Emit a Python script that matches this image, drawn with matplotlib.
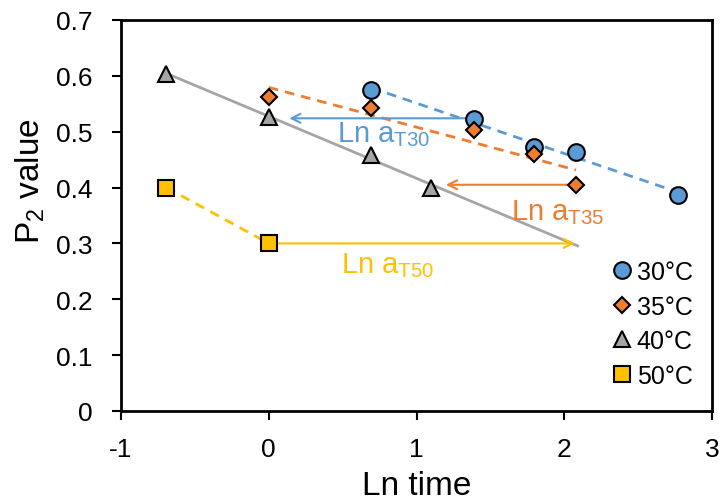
import numpy as np
import matplotlib
matplotlib.use("Agg")
import matplotlib.pyplot as plt

plt.rcParams['font.family'] = ['Liberation Sans', 'DejaVu Sans']
plt.rcParams['mathtext.fontset'] = 'custom'
plt.rcParams['mathtext.rm'] = 'Liberation Sans'
plt.rcParams['mathtext.it'] = 'Liberation Sans'
plt.rcParams['axes.unicode_minus'] = False

# Dados
x_30 = [0.693, 1.386, 1.792, 2.079, 2.773]
y_30 = [0.575, 0.522, 0.473, 0.463, 0.387]
x_35 = [0.0, 0.693, 1.386, 1.792, 2.079]
y_35 = [0.562, 0.543, 0.503, 0.460, 0.405]
x_40 = [-0.693, 0.0, 0.693, 1.099]
y_40 = [0.603, 0.527, 0.458, 0.400]
x_50 = [-0.693, 0.0]
y_50 = [0.400, 0.300]

# extensão da reta de 40°C (deslocada)
x_40_ext = 2.09

labels = ['30°C', '35°C', '40°C', '50°C']
x_ticks = [-1, 0, 1, 2, 3]
y_ticks = [0, 0.1, 0.2, 0.3, 0.4, 0.5, 0.6, 0.7]
y_ticklabels = ['0', '0.1', '0.2', '0.3', '0.4', '0.5', '0.6', '0.7']

azul = '#5B9BD5'
laranja = '#ED7D31'
cinza = '#A5A5A5'
amarelo = '#FFC000'

fig = plt.figure(figsize=(7.23, 5.02), dpi=100)
ax = fig.add_axes([0.1674, 0.1793, 0.8174, 0.7789])

# Linhas de tendência (ajuste linear)
p30 = np.polyfit(x_30, y_30, 1)
p35 = np.polyfit(x_35, y_35, 1)
p40 = np.polyfit(x_40, y_40, 1)

tracejado = dict(ls='--', lw=2.0, dashes=(3.5, 2.5), zorder=2)
xs = np.array([x_30[0], x_30[-1]])
ax.plot(xs, np.polyval(p30, xs), color=azul, **tracejado)
xs = np.array([x_35[0], x_35[-1]])
ax.plot(xs, np.polyval(p35, xs), color=laranja, **tracejado)
xs = np.array([x_40[0], x_40_ext])
ax.plot(xs, np.polyval(p40, xs), '-', color=cinza, lw=2.0, zorder=2)
ax.plot(x_50, y_50, color=amarelo, **tracejado)

# Setas de deslocamento
seta = dict(arrowstyle='->', lw=1.5, mutation_scale=16)
ax.annotate('', xy=(0.12, 0.524), xytext=(x_30[1], 0.524),
            arrowprops=dict(color=azul, **seta), zorder=3)
ax.annotate('', xy=(1.18, y_35[-1]), xytext=(x_35[-1], y_35[-1]),
            arrowprops=dict(color=laranja, **seta), zorder=3)
ax.annotate('', xy=(x_40_ext, y_50[1]), xytext=(x_50[1], y_50[1]),
            arrowprops=dict(color=amarelo, **seta), zorder=3)

ax.text(0.46, 0.497, r'Ln a$_{\mathrm{T30}}$', color=azul, fontsize=21, va='center')
ax.text(1.64, 0.357, r'Ln a$_{\mathrm{T35}}$', color=laranja, fontsize=21, va='center')
ax.text(0.49, 0.262, r'Ln a$_{\mathrm{T50}}$', color=amarelo, fontsize=21, va='center')

# Pontos
ax.plot(x_30, y_30, 'o', ms=12, mfc=azul, mec='black', mew=1.5, ls='none', label=labels[0], zorder=5)
ax.plot(x_35, y_35, 'D', ms=8.5, mfc=laranja, mec='black', mew=1.5, ls='none', label=labels[1], zorder=5)
ax.plot(x_40, y_40, '^', ms=12, mfc=cinza, mec='black', mew=1.5, ls='none', label=labels[2], zorder=5)
ax.plot(x_50, y_50, 's', ms=11, mfc=amarelo, mec='black', mew=1.5, ls='none', label=labels[3], zorder=5)

ax.set_xlim(-1, 3)
ax.set_ylim(0, 0.7)
ax.set_xticks(x_ticks)
ax.set_yticks(y_ticks)
ax.set_yticklabels(y_ticklabels)
ax.tick_params(labelsize=19, direction='out', length=6.5, width=1.5)
ax.tick_params(axis='x', pad=12)
ax.tick_params(axis='y', pad=14)
for s in ax.spines.values():
    s.set_linewidth(2)

ax.set_xlabel('Ln time', fontsize=24)
ax.set_ylabel(r'P$_2$ value', fontsize=24)
ax.xaxis.set_label_coords(0.5, -0.150)
ax.yaxis.set_label_coords(-0.125, 0.59)

ax.legend(loc='lower right', frameon=False, fontsize=18, handletextpad=0.1,
          handlelength=1.0, labelspacing=0.42, borderaxespad=0.3,
          bbox_to_anchor=(0.997, 0.015))

fig.savefig('out.png', dpi=100)
